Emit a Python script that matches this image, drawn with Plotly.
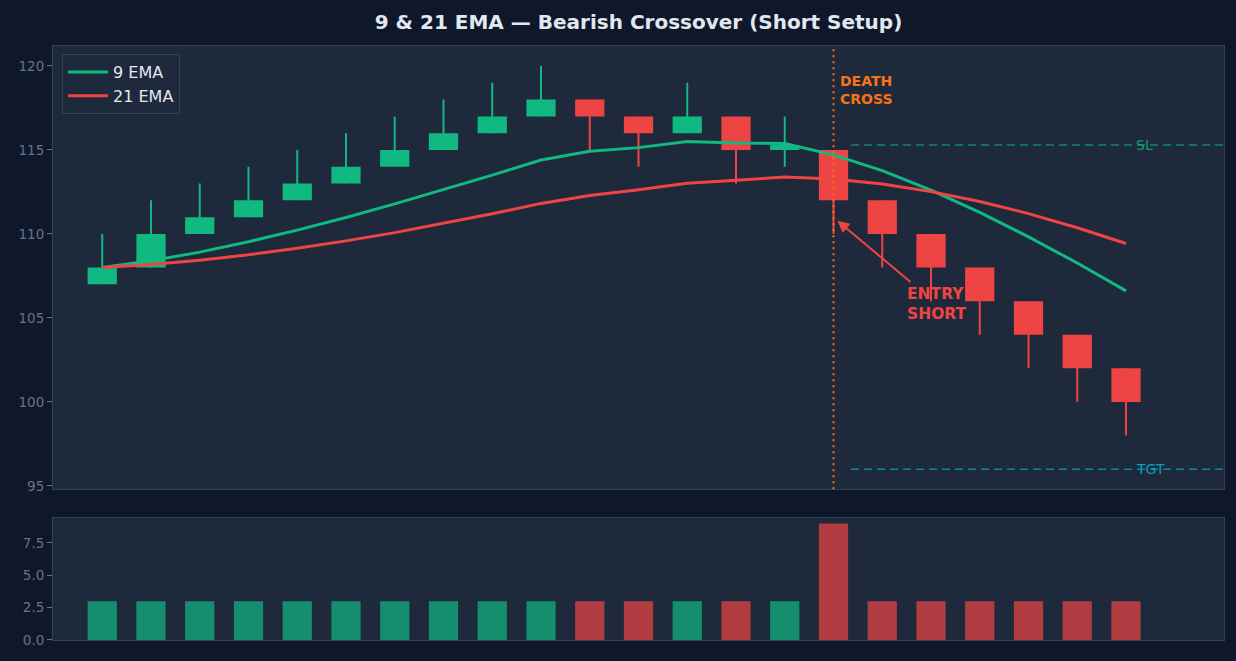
import plotly.graph_objects as go
from plotly.subplots import make_subplots

# ---- data ----
idx = list(range(22))
opens  = [107, 108, 110, 111, 112, 113, 114, 115, 116, 117, 118, 117, 116, 117, 115, 115, 112, 110, 108, 106, 104, 102]
highs  = [110, 112, 113, 114, 115, 116, 117, 118, 119, 120, 118, 117, 119, 117, 117, 115, 112, 110, 108, 106, 104, 102]
lows   = [107, 108, 110, 111, 112, 113, 114, 115, 116, 117, 115, 114, 116, 113, 114, 110, 108, 106, 104, 102, 100, 98]
closes = [108, 110, 111, 112, 113, 114, 115, 116, 117, 118, 117, 116, 117, 115, 115.3, 112, 110, 108, 106, 104, 102, 100]
volumes = [3, 3, 3, 3, 3, 3, 3, 3, 3, 3, 3, 3, 3, 3, 3, 9, 3, 3, 3, 3, 3, 3]
ema9  = [108.0, 108.4, 108.92, 109.54, 110.23, 110.98, 111.79, 112.63, 113.5, 114.4, 114.92,
         115.14, 115.51, 115.41, 115.39, 114.71, 113.77, 112.61, 111.29, 109.83, 108.27, 106.61]
ema21 = [108.0, 108.18, 108.44, 108.76, 109.15, 109.59, 110.08, 110.62, 111.2, 111.82, 112.29,
         112.63, 113.02, 113.2, 113.39, 113.27, 112.97, 112.52, 111.93, 111.21, 110.37, 109.43]
cross_idx = 15
sl_level = 115.3
tgt_level = 96

GREEN = "#10b981"
RED = "#ef4444"
ORANGE = "#f97316"
CYAN = "#06b6d4"
BG = "#0f172a"
PANEL = "#1e293b"
SPINE = "#334155"
TICK = "#64748b"
TEXT = "#e2e8f0"
FONT = "DejaVu Sans"

fig = make_subplots(rows=2, cols=1, shared_xaxes=True)

up = [c >= o for o, c in zip(opens, closes)]

# wicks
for is_up, col in [(True, GREEN), (False, RED)]:
    wx, wy = [], []
    for i in idx:
        if up[i] == is_up:
            wx += [i, i, None]
            wy += [lows[i], highs[i], None]
    fig.add_trace(go.Scatter(x=wx, y=wy, mode="lines", line=dict(color=col, width=2),
                             showlegend=False, hoverinfo="skip"), row=1, col=1)

# bodies
for is_up, col in [(True, GREEN), (False, RED)]:
    bx = [i for i in idx if up[i] == is_up]
    fig.add_trace(go.Bar(x=bx,
                         y=[abs(closes[i] - opens[i]) for i in bx],
                         base=[min(opens[i], closes[i]) for i in bx],
                         width=0.6, marker=dict(color=col, line=dict(width=0)),
                         showlegend=False, hoverinfo="skip"), row=1, col=1)

# EMAs
fig.add_trace(go.Scatter(x=idx, y=ema9, mode="lines", name="9 EMA",
                         line=dict(color=GREEN, width=3)), row=1, col=1)
fig.add_trace(go.Scatter(x=idx, y=ema21, mode="lines", name="21 EMA",
                         line=dict(color=RED, width=3)), row=1, col=1)

# volume
fig.add_trace(go.Bar(x=idx, y=volumes, width=0.6,
                     marker=dict(color=["rgba(16,185,129,0.7)" if u else "rgba(239,68,68,0.7)" for u in up],
                                 line=dict(width=0)),
                     showlegend=False, hoverinfo="skip"), row=2, col=1)

XR = [-1.01, 23.01]

fig.update_layout(
    width=1236, height=661,
    paper_bgcolor=BG, plot_bgcolor=PANEL,
    margin=dict(l=53, r=12, t=46, b=21),
    barmode="overlay",
    font=dict(family=FONT, color=TICK, size=13),
    title=dict(text="<b>9 & 21 EMA — Bearish Crossover (Short Setup)</b>",
               xref="paper", x=0.5, xanchor="center", y=1 - 22 / 661, yanchor="middle",
               font=dict(family=FONT, size=20, color=TEXT)),
    legend=dict(x=0.0077, y=0.9865, xanchor="left", yanchor="top", itemwidth=40,
                bgcolor=PANEL, bordercolor=SPINE, borderwidth=1,
                font=dict(family=FONT, size=16, color=TEXT)),
    showlegend=True,
    hovermode=False,
)

axis_common = dict(showgrid=False, zeroline=False, showline=True, linecolor=SPINE,
                   linewidth=1, mirror=True)
fig.update_xaxes(range=XR, showticklabels=False, ticks="", **axis_common)
fig.update_layout(
    xaxis=dict(domain=[0, 1]),
    xaxis2=dict(domain=[0, 1]),
    yaxis=dict(domain=[0.2537, 1], range=[94.80, 121.19], tickvals=[95, 100, 105, 110, 115, 120],
               ticks="outside", ticklen=5, tickcolor=TICK, tickfont=dict(color=TICK, size=13.5), **axis_common),
    yaxis2=dict(domain=[0, 0.2049], range=[0, 9.41], tickvals=[0, 2.5, 5, 7.5], tickformat=".1f",
                ticks="outside", ticklen=5, tickcolor=TICK, tickfont=dict(color=TICK, size=13.5), **axis_common),
)

# death cross vertical line
fig.add_shape(type="line", xref="x", yref="y domain", x0=cross_idx, x1=cross_idx, y0=0, y1=1,
              line=dict(color=ORANGE, width=2, dash="2px,4px"), layer="above")
# SL / TGT lines
fig.add_shape(type="line", xref="x", yref="y", x0=15.36, x1=XR[1], y0=sl_level, y1=sl_level,
              line=dict(color="rgba(16,185,129,0.65)", width=1.5, dash="8px,5px"), layer="above")
fig.add_shape(type="line", xref="x", yref="y", x0=15.36, x1=XR[1], y0=tgt_level, y1=tgt_level,
              line=dict(color="rgba(6,182,212,0.65)", width=1.5, dash="8px,5px"), layer="above")

fig.add_annotation(x=15.1, y=118.6, xref="x", yref="y", xanchor="left", yanchor="middle",
                   text="<b>DEATH<br>CROSS</b>", showarrow=False, align="left",
                   font=dict(family=FONT, size=14, color=ORANGE))
fig.add_annotation(x=21.16, y=sl_level, xref="x", yref="y", xanchor="left", yanchor="middle",
                   text="SL", showarrow=False, font=dict(family=FONT, size=14, color="rgba(16,185,129,0.8)"))
fig.add_annotation(x=21.16, y=tgt_level, xref="x", yref="y", xanchor="left", yanchor="middle",
                   text="TGT", showarrow=False, font=dict(family=FONT, size=14, color="rgba(6,182,212,0.85)"))
# entry arrow
fig.add_annotation(x=15.08, y=110.79, ax=16.61, ay=107.07, xref="x", yref="y", axref="x", ayref="y",
                   text="", showarrow=True, arrowhead=2, arrowsize=1.2, arrowwidth=2, arrowcolor=RED)
fig.add_annotation(x=16.46, y=105.83, xref="x", yref="y", xanchor="left", yanchor="middle",
                   text="<b>ENTRY<br>SHORT</b>", showarrow=False, align="left",
                   font=dict(family=FONT, size=15.5, color=RED))

fig.write_html("out.html", config={"displayModeBar": False},
               post_script="document.body.style.margin='0';document.body.style.background='" + BG + "';")
